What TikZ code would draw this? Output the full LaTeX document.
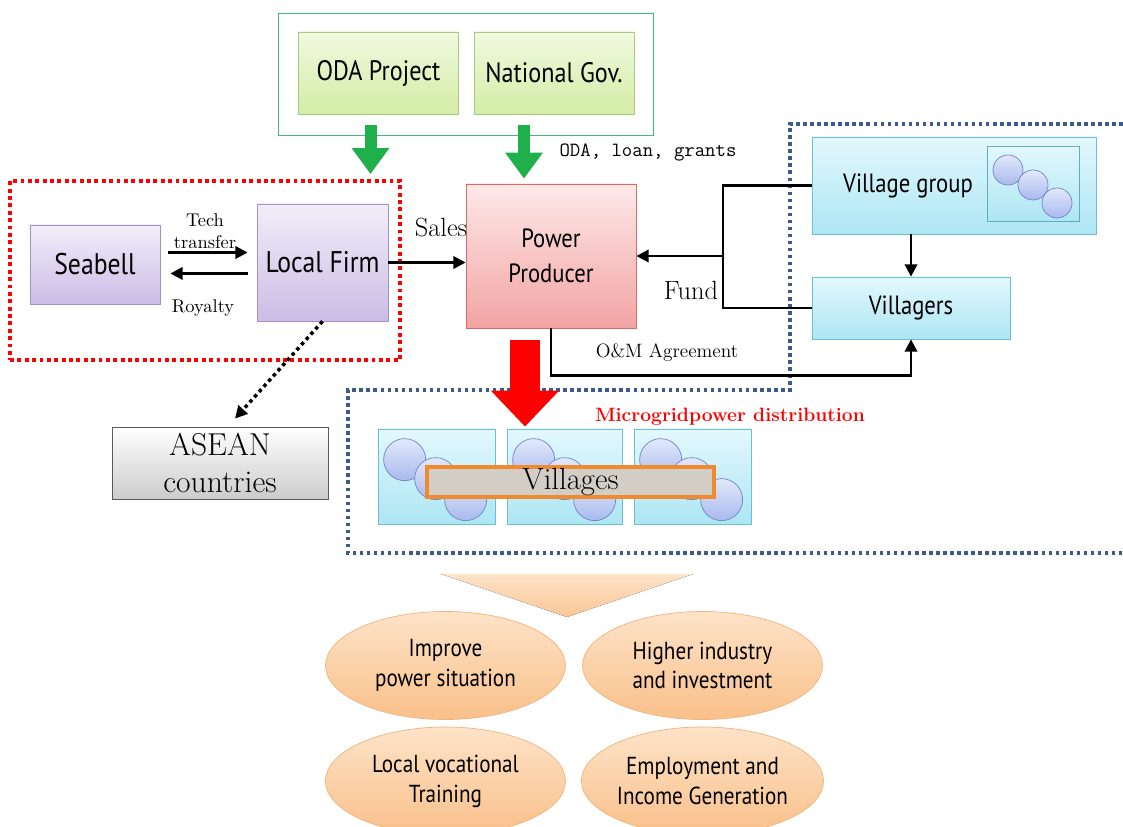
\documentclass[tikz,border=0pt]{standalone}
\usepackage{fontspec}
\newfontfamily\gothic[FakeStretch=0.86]{PT Sans}
\usetikzlibrary{arrows.meta}
\usetikzlibrary{positioning}
\usetikzlibrary{shapes.geometric}
\def\px{0.02cm}
\definecolor{limetop}{HTML}{F1F9DF}
\definecolor{limebot}{HTML}{D3EDA6}
\definecolor{limeedge}{HTML}{A9C97A}
\definecolor{groupgreen}{HTML}{3DBB7A}
\definecolor{arrowgreen}{HTML}{1FAF4B}
\definecolor{lilactop}{HTML}{F2EDF9}
\definecolor{lilacbot}{HTML}{CBBDE6}
\definecolor{lilacedge}{HTML}{A392C9}
\definecolor{pinktop}{HTML}{FDE9E9}
\definecolor{pinkbot}{HTML}{F3A3A3}
\definecolor{pinkedge}{HTML}{D86A6A}
\definecolor{cyantop}{HTML}{E3F8FD}
\definecolor{cyanbot}{HTML}{ADE6F4}
\definecolor{cyanedge}{HTML}{6CBFD5}
\definecolor{dottop}{HTML}{E2E9FB}
\definecolor{dotbot}{HTML}{A9B9EE}
\definecolor{dotedge}{HTML}{6B86C6}
\definecolor{peachtop}{HTML}{FDE3C8}
\definecolor{peachbot}{HTML}{F9C08A}
\definecolor{peachedge}{HTML}{F2B27A}
\definecolor{groupblue}{HTML}{3C5A8C}
\definecolor{villagegray}{HTML}{D2CEC6}
\definecolor{villageorange}{HTML}{F08A2E}

\begin{document}
\begin{tikzpicture}[x=0.02cm, y=-0.02cm,
govbox/.style={draw=limeedge, top color=limetop, bottom color=limebot, minimum width=160*\px, minimum height=82*\px, font=\gothic\fontsize{16pt}{18pt}\selectfont},
firmbox/.style={draw=lilacedge, top color=lilactop, bottom color=lilacbot, font=\gothic\fontsize{17pt}{19pt}\selectfont},
villbox/.style={draw=cyanedge, top color=cyantop, bottom color=cyanbot},
vdot/.style={circle, draw=dotedge, top color=dottop, bottom color=dotbot, inner sep=0pt, minimum size=42*\px},
effect/.style={ellipse, draw=peachedge, top color=peachtop, bottom color=peachbot, inner sep=0pt, minimum width=240*\px, minimum height=108*\px, align=center, font=\gothic\fontsize{14pt}{17pt}\selectfont},
flow/.style={line width=1.6pt, -{Triangle[length=7pt, width=7pt]}},
bigarrow/.style={line width=12*\px, -{Triangle[length=26*\px, width=36*\px]}},
lbl/.style={inner sep=1pt, font=\fontsize{10.5pt}{12.5pt}\selectfont, align=center},
]
\useasboundingbox (0,0) rectangle (1123,827);

\node[draw=groupgreen, minimum width=375*\px, minimum height=122*\px](govgroup) at (465.5,74){};
\node[govbox](oda) at (378.5,73){ODA Project};
\node[govbox](gov) at (554,73){National Gov.};

\node[draw=red, line width=2.2pt, dotted, minimum width=390*\px, minimum height=179*\px](firmgroup) at (205,270.5){};
\node[firmbox, minimum width=130*\px, minimum height=79*\px](seabell) at (95,264.5){Seabell};
\node[firmbox, minimum width=131*\px, minimum height=117*\px](firm) at (322.5,262.5){Local Firm};

\node[draw=pinkedge, top color=pinktop, bottom color=pinkbot, minimum width=170*\px, minimum height=144*\px, align=center, font=\gothic\fontsize{15pt}{20pt}\selectfont](producer) at (551,256){Power\\Producer};

\draw[groupblue, line width=2pt, dotted] (1123,124) -- (790,124) -- (790,390) -- (348,390) -- (348,553) -- (1123,553);

\node[villbox, minimum width=284*\px, minimum height=97*\px](villgroup) at (954,185.5){};
\node[font=\gothic\fontsize{15pt}{18pt}\selectfont](villgrouptext) at (908,185.5){Village group};
\node[villbox, draw=cyanedge!90!black, minimum width=92*\px, minimum height=75*\px](groupicon) at (1033,183.5){};
\node[vdot, minimum size=30*\px](gdot1) at (1008,170){};
\node[vdot, minimum size=30*\px](gdot2) at (1033,185){};
\node[vdot, minimum size=30*\px](gdot3) at (1057,203){};
\node[villbox, minimum width=198*\px, minimum height=62*\px, font=\gothic\fontsize{15pt}{18pt}\selectfont](villagers) at (911,308){Villagers};

\node[draw=black!65, top color=white, bottom color=black!20, minimum width=216*\px, minimum height=68*\px, align=center, font=\fontsize{18pt}{21.5pt}\selectfont](asean) at (220,463){ASEAN\\countries};

\node[villbox, minimum width=117*\px, minimum height=95*\px](tile1) at (436.5,476.5){};
\node[villbox, minimum width=115*\px, minimum height=95*\px](tile2) at (564.5,476.5){};
\node[villbox, minimum width=117*\px, minimum height=95*\px](tile3) at (692.5,476.5){};
\foreach \t in {tile1,tile2,tile3}{
\node[vdot](\t a) at ([shift={(27,31)}]\t.north west){};
\node[vdot](\t b) at ([shift={(58,50)}]\t.north west){};
\node[vdot](\t c) at ([shift={(88,71)}]\t.north west){};
}
\node[draw=villageorange, fill=villagegray, line width=2.2pt, minimum width=287*\px, minimum height=30*\px, inner sep=0pt, font=\fontsize{17.5pt}{19pt}\selectfont](villages) at (570.5,482){Villages};

\fill[top color=peachtop, bottom color=peachbot!90!white] (441,574) -- (693,574) -- (567,617) -- cycle;
\node[effect](improve) at (445.5,665.5){Improve\\power situation};
\node[effect](industry) at (702.5,665.5){Higher industry\\and investment};
\node[effect](training) at (445.5,781){Local vocational\\Training};
\node[effect](income) at (702.5,781){Employment and\\Income Generation};

\draw[bigarrow, arrowgreen] ([xshift=-8*\px, yshift=-11*\px]oda.south) -- ([xshift=-8*\px, yshift=5*\px]oda.south |- firmgroup.north);
\draw[bigarrow, arrowgreen] ([xshift=-30*\px, yshift=-11*\px]gov.south) -- ([xshift=-30*\px, yshift=5*\px]gov.south |- producer.north);
\draw[red, line width=30*\px, -{Triangle[length=36*\px, width=66*\px]}] ([xshift=-26*\px, yshift=-12*\px]producer.south) -- ([xshift=-26*\px, yshift=2*\px]producer.south |- tile2.north);

\draw[flow, shorten <=8*\px, shorten >=9*\px] ([yshift=12*\px]seabell.east) -- ([yshift=12*\px]seabell.east -| firm.west);
\draw[flow, shorten <=9*\px, shorten >=10*\px] ([yshift=-9*\px]seabell.east -| firm.west) -- ([yshift=-9*\px]seabell.east);
\node[lbl](tech) at (205,231){Tech\\transfer};
\node[lbl](royalty) at (203,308){Royalty};

\draw[flow] (firm.east) -- (firm.east -| producer.west);
\node[font=\fontsize{15pt}{17pt}\selectfont](sales) at (441,228){Sales};

\coordinate(fundjoin) at (723,256);
\draw[line width=1.6pt] (villgroup.west) -| (fundjoin) |- (villagers.west);
\draw[flow] (fundjoin) -- (fundjoin -| producer.east);
\node[font=\fontsize{15pt}{17pt}\selectfont](fund) at (691,290){Fund};

\draw[flow] (villagers.north |- villgroup.south) -- (villagers.north);
\draw[flow] (producer.south) -- ++(0,47) -| (villagers.south);
\node[font=\fontsize{11pt}{13pt}\selectfont](omtext) at (667,353){O\&M Agreement};
\node[font=\ttfamily\fontsize{11.5pt}{13pt}\selectfont](odatext) at (648,153){ODA, loan, grants};

\draw[line width=2pt, dotted, -{Triangle[length=7pt, width=7pt]}] (firm.south) -- ([xshift=15*\px, yshift=8*\px]asean.north);

\node[red, font=\bfseries\fontsize{11pt}{13pt}\selectfont](microgrid) at (730,417){Microgridpower distribution};
\end{tikzpicture}
\end{document}
